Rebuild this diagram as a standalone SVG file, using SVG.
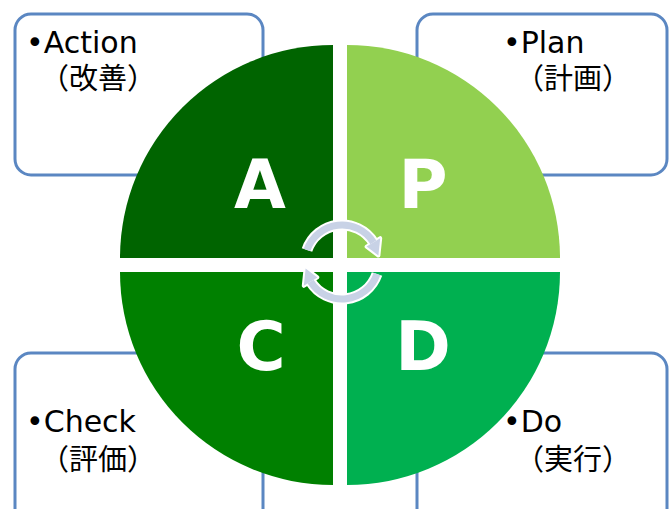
<svg xmlns="http://www.w3.org/2000/svg" width="670" height="509" viewBox="0 0 670 509">
<style>
.box{fill:#fff;stroke:#5b87c2;stroke-width:3}
.lbl{font-family:"DejaVu Sans","Noto Sans CJK JP",sans-serif;font-size:30px;fill:#000}
.cjk{font-family:"Noto Sans CJK JP","DejaVu Sans",sans-serif;font-size:29px;fill:#000}
.big{font-family:"DejaVu Sans","Liberation Sans",sans-serif;font-weight:bold;font-size:67px;fill:#fff;text-anchor:middle}
.arcw{fill:none;stroke:#fff;stroke-width:11}
.arcc{fill:none;stroke:#c8d2e6;stroke-width:7}
.headw{fill:#fff;stroke:#fff;stroke-width:4;stroke-linejoin:round}
.headc{fill:#c8d2e6}
</style>
<rect width="670" height="509" fill="#fff"/>
<g id="box-action">
<rect class="box" x="15" y="14" width="248" height="161" rx="16"/>
<text class="lbl" x="26" y="53">•Action</text>
<text class="cjk" x="40" y="89">（改善）</text>
</g>
<g id="box-plan">
<rect class="box" x="417" y="14" width="250" height="161" rx="16"/>
<text class="lbl" x="503" y="53">•Plan</text>
<text class="cjk" x="515" y="89">（計画）</text>
</g>
<g id="box-check">
<rect class="box" x="15" y="353" width="248" height="180" rx="16"/>
<text class="lbl" x="26" y="432">•Check</text>
<text class="cjk" x="40" y="470">（評価）</text>
</g>
<g id="box-do">
<rect class="box" x="417" y="353" width="250" height="180" rx="16"/>
<text class="lbl" x="503" y="432">•Do</text>
<text class="cjk" x="515" y="470">（実行）</text>
</g>
<g id="quad-a">
<path d="M333,258 L120,258 A213,213 0 0 1 333,45 Z" fill="#006400"/>
<text class="big" x="260" y="208">A</text>
</g>
<g id="quad-p">
<path d="M347,258 L347,45 A213,213 0 0 1 560,258 Z" fill="#92d050"/>
<text class="big" x="423" y="208">P</text>
</g>
<g id="quad-d">
<path d="M347,272 L560,272 A213,213 0 0 1 347,485 Z" fill="#00b050"/>
<text class="big" x="423" y="370">D</text>
</g>
<g id="quad-c">
<path d="M333,272 L333,485 A213,213 0 0 1 120,272 Z" fill="#008000"/>
<text class="big" x="261" y="370">C</text>
</g>
<g id="connectors">
<path class="arcw" d="M307,250 A37,37 0 0 1 373.4,242.4"/>
<polygon class="headw" points="366.6,246.6 380.2,238.2 378.4,255.6"/>
<path class="arcw" d="M377,274 A37,37 0 0 1 310.6,281.6"/>
<polygon class="headw" points="317.4,277.4 303.8,285.8 305.6,268.4"/>
<path class="arcc" d="M307,250 A37,37 0 0 1 373.4,242.4"/>
<polygon class="headc" points="366.6,246.6 380.2,238.2 378.4,255.6"/>
<path class="arcc" d="M377,274 A37,37 0 0 1 310.6,281.6"/>
<polygon class="headc" points="317.4,277.4 303.8,285.8 305.6,268.4"/>
</g>
</svg>
